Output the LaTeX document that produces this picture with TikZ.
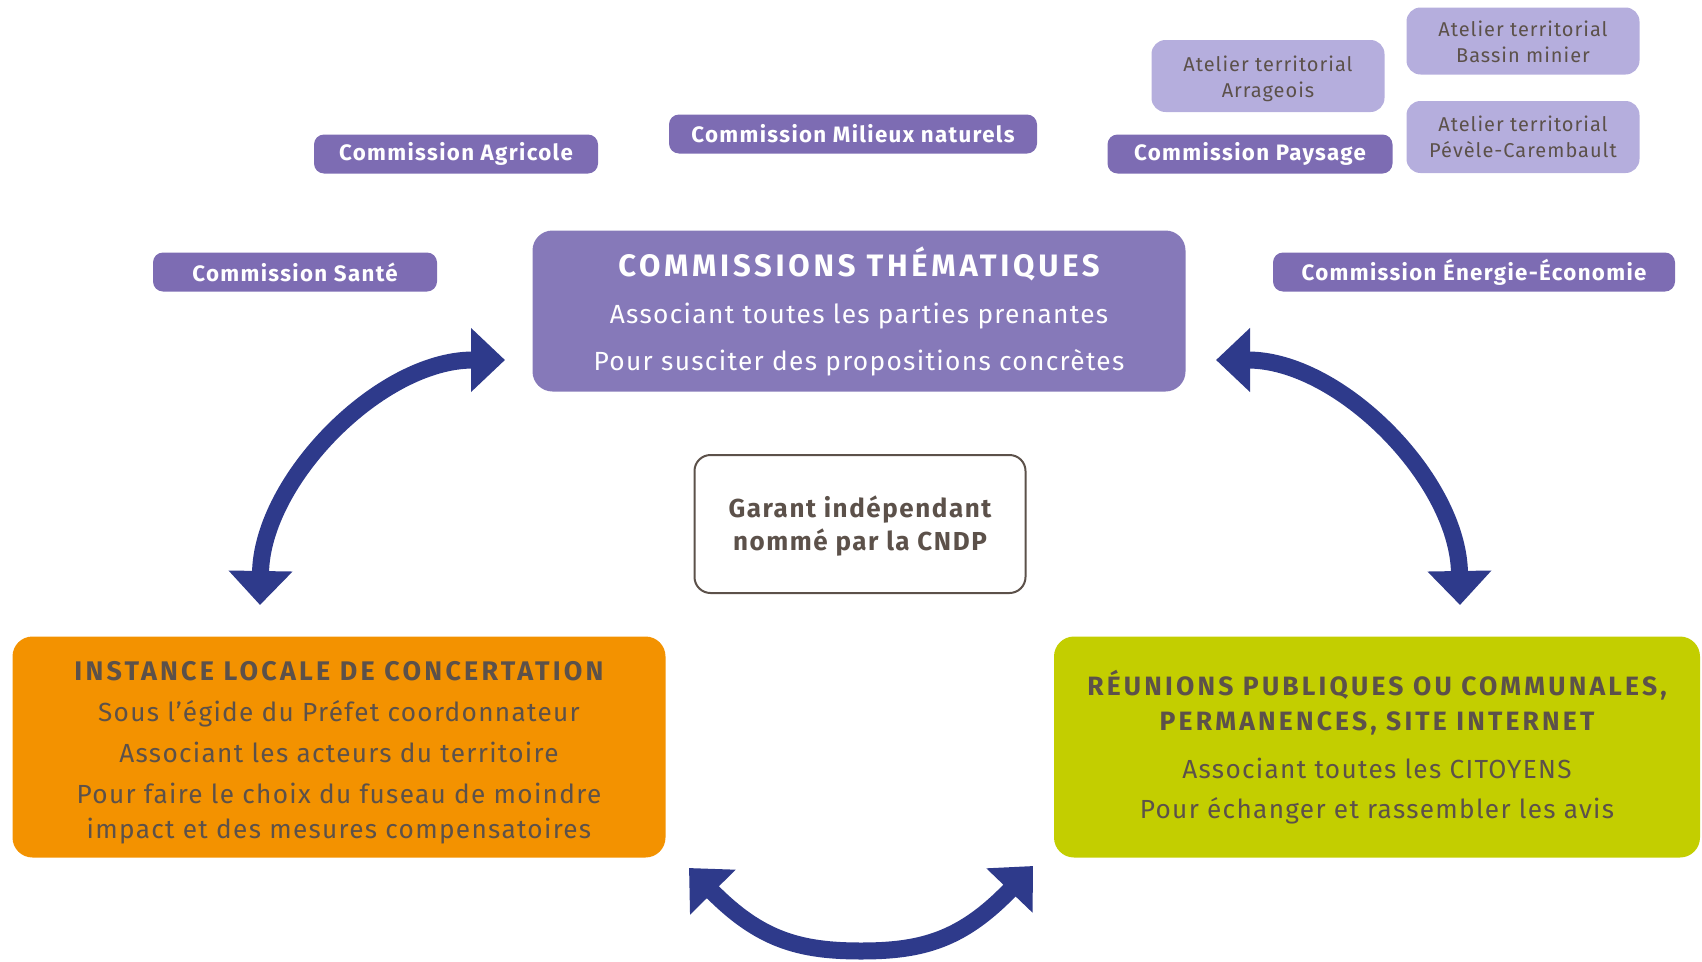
\documentclass[tikz,border=0pt]{standalone}
\usepackage{fontspec}
\setmainfont{Fira Sans}[LetterSpace=5]
\newfontfamily\ttlfont{Fira Sans}[LetterSpace=12]
\newfontfamily\smlfont{Fira Sans}[LetterSpace=6]
\usetikzlibrary{arrows.meta}
\definecolor{themec}{HTML}{8679B9}
\definecolor{comc}{HTML}{7D6CB3}
\definecolor{atelc}{HTML}{B5AEDD}
\definecolor{orangec}{HTML}{F39200}
\definecolor{limec}{HTML}{C3CE00}
\definecolor{navyc}{HTML}{2E3A8B}
\definecolor{txtc}{HTML}{5C514A}
\tikzset{
  com/.style={fill=comc, text=white, rounded corners=10pt, inner sep=0pt,
    minimum height=39pt, font=\smlfont\fontsize{22.3}{25}\selectfont\bfseries},
  atel/.style={fill=atelc, text=txtc, rounded corners=14pt, inner sep=0pt,
    minimum width=233pt, align=center, font=\fontsize{20}{26}\selectfont},
  big/.style={rounded corners=20pt, inner sep=0pt, align=center},
  flow/.style={draw=navyc, line width=17pt,
    {Triangle[width=62pt,length=34pt]}-{Triangle[width=62pt,length=34pt]}},
}
\begin{document}
\begin{tikzpicture}[x=1pt, y=-1pt]
    \useasboundingbox (0,0) rectangle (1702,961);

    % small commissions and ateliers
    \node [com, minimum width=284pt] (agri) at (456,154) {Commission Agricole};
    \node [com, minimum width=368pt] (milieux) at (853,134) {Commission Milieux naturels};
    \node [com, minimum width=285pt] (paysage) at (1250,154) {Commission Paysage};
    \node [com, minimum width=284pt] (sante) at (295,272) {Commission Santé};
    \node [com, minimum width=402pt] (energie) at (1474,272) {Commission Énergie-Économie};
    \node [atel, minimum height=72pt] (arrageois) at (1268,76) {\rule{0pt}{21pt}Atelier territorial\\Arrageois};
    \node [atel, minimum height=67pt] (bassin) at (1523,41) {\rule{0pt}{18pt}Atelier territorial\\Bassin minier};
    \node [atel, minimum height=72pt] (pevele) at (1523,137) {Atelier territorial\\Pévèle-Carembault};

    % main boxes
    \node [big, fill=themec, text=white, minimum width=653pt, minimum height=161pt,
      font=\fontsize{26.3}{47}\selectfont] (theme) at (859,311)
      {{\ttlfont\fontsize{31}{47}\selectfont\bfseries COMMISSIONS THÉMATIQUES}\\
       Associant toutes les parties prenantes\\
       Pour susciter des propositions concrètes};
    \node [big, draw=txtc, line width=2pt, rounded corners=16pt, text=txtc,
      minimum width=331pt, minimum height=138pt,
      font=\smlfont\fontsize{26}{33}\selectfont\bfseries] (garant) at (860,524)
      {\rule{0pt}{26pt}Garant indépendant\\nommé par la CNDP};
    \node [big, fill=orangec, text=txtc, minimum width=653pt, minimum height=221pt,
      font=\fontsize{26.2}{41}\selectfont] (instance) at (339,747)
      {\rule{0pt}{30pt}{\ttlfont\fontsize{26.9}{41}\selectfont\bfseries INSTANCE LOCALE DE CONCERTATION}\\
       Sous l’égide du Préfet coordonnateur\\
       Associant les acteurs du territoire\\
       Pour faire le choix du fuseau de moindre\\[-6pt]
       impact et des mesures compensatoires};
    \node [big, fill=limec, text=txtc, minimum width=646pt, minimum height=221pt,
      font=\fontsize{26.2}{40}\selectfont] (reunions) at (1377,747)
      {\rule{0pt}{22pt}{\ttlfont\fontsize{26.5}{40}\selectfont\bfseries RÉUNIONS PUBLIQUES OU COMMUNALES,}\\[-5pt]
       {\ttlfont\fontsize{26.5}{40}\selectfont\bfseries PERMANENCES, SITE INTERNET}\\[8pt]
       Associant toutes les CITOYENS\\
       Pour échanger et rassembler les avis};

    % arrow ends
    \coordinate (lt) at (505,360);
    \coordinate (lb) at (260,605);
    \coordinate (rt) at (1216,360);
    \coordinate (rb) at (1460,605);
    \coordinate (bl) at (689,868);
    \coordinate (bm) at (861,951);
    \coordinate (br) at (1033,866);

    % arrows
    \draw [flow] (lt) .. controls (380,360) and (262,480) .. (lb);
    \draw [flow] (rt) .. controls (1340,360) and (1458,480) .. (rb);
    \draw [flow] (bl) .. controls (760,940) and (800,951) .. (bm)
      .. controls (922,951) and (962,940) .. (br);
\end{tikzpicture}
\end{document}
